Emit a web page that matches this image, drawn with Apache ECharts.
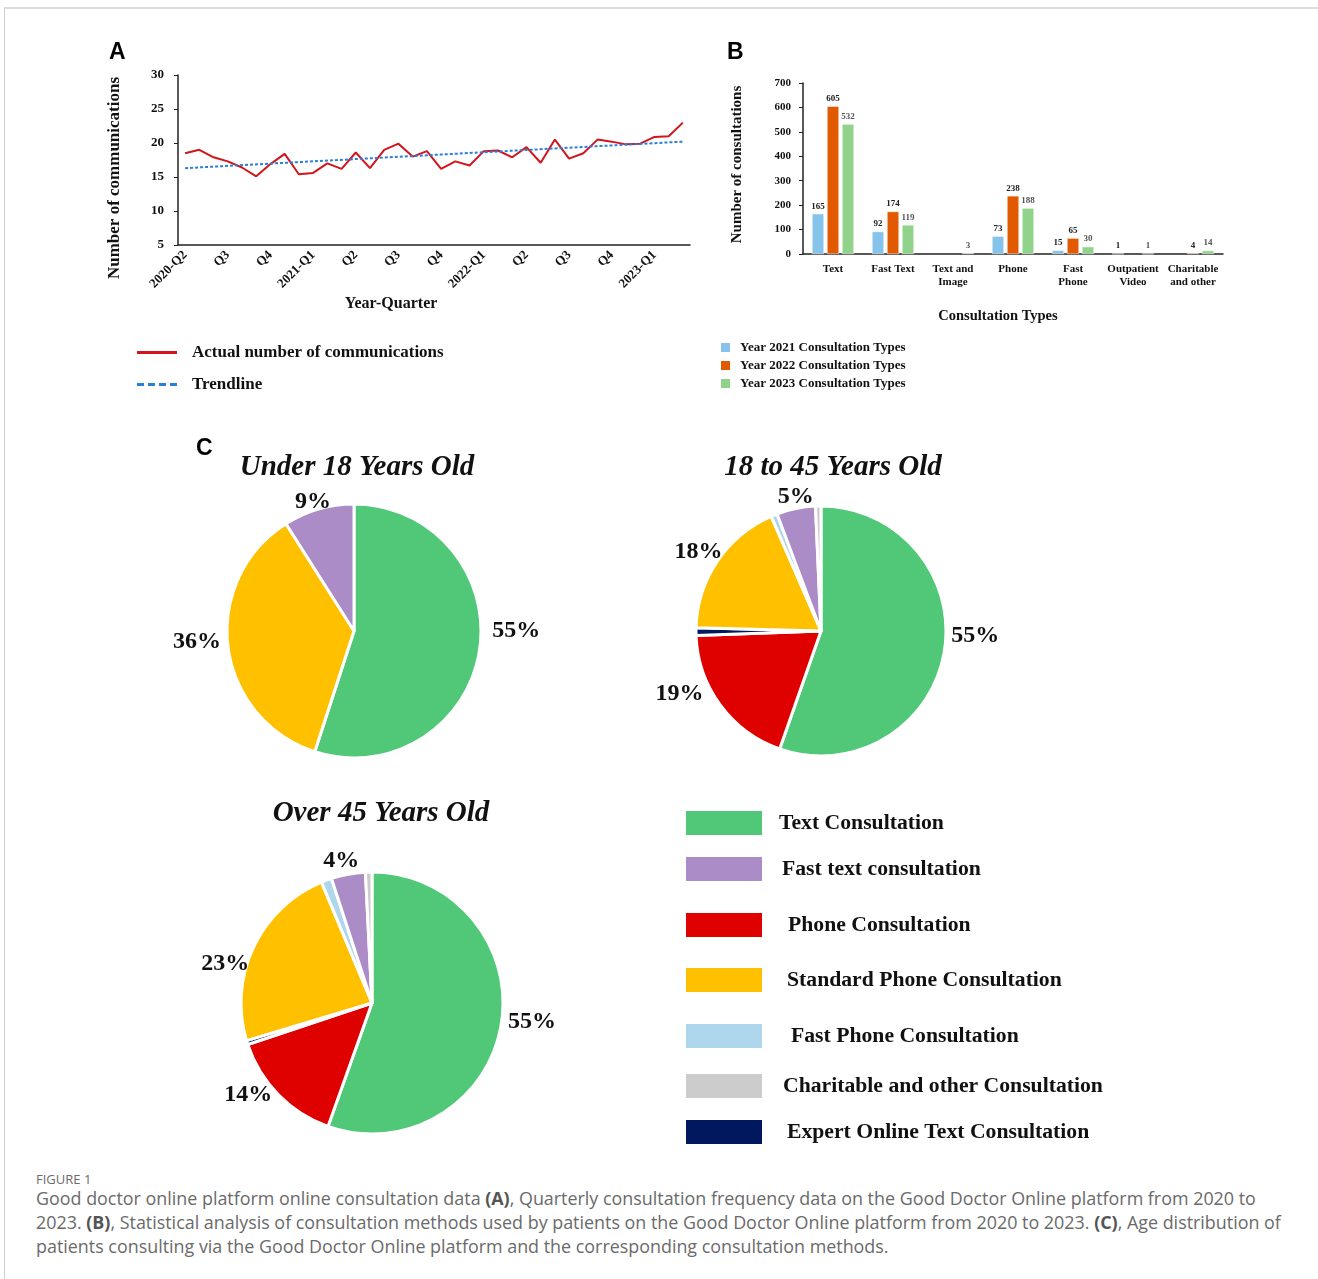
<!DOCTYPE html>
<html>
<head>
<meta charset="utf-8">
<script src="https://cdn.jsdelivr.net/npm/echarts@6/dist/echarts.min.js"></script>
<style>
  body { margin: 0; background: #fff; }
  #frame { position: absolute; left: 4px; top: 7px; width: 1314px; height: 1272px; border-top: 2px solid #dcdcdc; border-left: 1px solid #cfcfcf; pointer-events: none; }
  #chart { position: absolute; left: 0; top: 0; width: 1318px; height: 1165px; }
  #caption { position: absolute; left: 36px; top: 1172px; font-family: "Open Sans", sans-serif; color: #6a6a6a; white-space: nowrap; }
  #caption .fig { font-size: 13px; line-height: 14px; }
  #caption .txt { font-size: 17.9px; line-height: 24px; }
  #caption b { font-weight: 700; color: #555; }
</style>
</head>
<body>
<div id="chart"></div>
<div id="caption">
  <div class="fig">FIGURE 1</div>
  <div class="txt">Good doctor online platform online consultation data <b>(A)</b>, Quarterly consultation frequency data on the Good Doctor Online platform from 2020 to<br>2023. <b>(B)</b>, Statistical analysis of consultation methods used by patients on the Good Doctor Online platform from 2020 to 2023. <b>(C)</b>, Age distribution of<br>patients consulting via the Good Doctor Online platform and the corresponding consultation methods.</div>
</div>
<div id="frame"></div>
<script>
// Panel A - monthly counts, labelled by quarter
const monthLabels = ['2020-Q2','','','Q3','','','Q4','','','2021-Q1','','','Q2','','','Q3','','','Q4','','',
  '2022-Q1','','','Q2','','','Q3','','','Q4','','','2023-Q1','',''];
const actualCounts = [18.5, 19.0, 17.9, 17.3, 16.4, 15.1, 16.9, 18.4, 15.4, 15.6, 17.0, 16.2,
  18.6, 16.3, 19.0, 19.9, 18.0, 18.8, 16.2, 17.3, 16.7, 18.8, 18.9, 17.9,
  19.4, 17.1, 20.5, 17.7, 18.5, 20.5, 20.2, 19.8, 19.9, 20.9, 21.0, 23.0];
const trendStart = 16.3;
const trendEnd = 20.2;

// Panel B - consultation types per year
const consultTypes = ['Text', 'Fast Text', 'Text and\nImage', 'Phone', 'Fast\nPhone', 'Outpatient\nVideo', 'Charitable\nand other'];
const year2021 = [165, 92, null, 73, 15, 1, null];
const year2022 = [605, 174, null, 238, 65, null, 4];
const year2023 = [532, 119, 3, 188, 30, 1, 14];

// Panel C - age groups (percent)
const methodNames = ['Text Consultation', 'Phone Consultation', 'Expert Online Text Consultation',
  'Standard Phone Consultation', 'Fast Phone Consultation', 'Fast text consultation', 'Charitable and other Consultation'];
const under18 = [55, 0, 0, 36, 0, 9, 0];
const age18to45 = [55.2, 19, 1, 18, 0.8, 5, 0.7];
const over45 = [55.4, 14.4, 0.5, 23.3, 1.3, 4.2, 0.8];
const legendOrder = ['Text Consultation', 'Fast text consultation', 'Phone Consultation', 'Standard Phone Consultation',
  'Fast Phone Consultation', 'Charitable and other Consultation', 'Expert Online Text Consultation'];

const methodColors = {
  'Text Consultation': '#50c878',
  'Fast text consultation': '#ab8cc6',
  'Phone Consultation': '#df0000',
  'Standard Phone Consultation': '#ffc000',
  'Fast Phone Consultation': '#aed6ec',
  'Charitable and other Consultation': '#cccccc',
  'Expert Online Text Consultation': '#02185e'
};

// label nudges (px) so the percentages sit where the original put them
const nudgeUnder18 = { 0: [2, -21], 3: [4, -6], 5: [19, -1] };
const nudge18to45 = { 0: [-4, -17], 1: [-7, -15], 3: [15, -6], 5: [24, -6] };
const nudgeOver45 = { 0: [-4, -5], 1: [3, -4], 3: [6, 19], 5: [17, -7] };

const serif = '"Liberation Serif", "Times New Roman", serif';
const chart = echarts.init(document.getElementById('chart'));

function pieData(values, nudge) {
  const out = [];
  values.forEach((v, i) => {
    if (!v) return;
    out.push({
      name: methodNames[i],
      value: v,
      itemStyle: { color: methodColors[methodNames[i]] },
      label: { show: v >= 3, offset: nudge[i] || [0, 0] }
    });
  });
  return out;
}

function pieSeries(values, nudge, center, radius) {
  return {
    type: 'pie',
    center: center,
    radius: radius,
    startAngle: 90,
    clockwise: true,
    animation: false,
    emphasis: { disabled: true },
    itemStyle: { borderColor: '#fff', borderWidth: 3 },
    label: {
      position: 'outside',
      formatter: p => Math.round(p.value) + '%',
      fontFamily: serif, fontWeight: 'bold', fontSize: 24, color: '#111'
    },
    labelLine: { show: false, length: 6, length2: 0 },
    data: pieData(values, nudge)
  };
}

const legendTops = [811, 857, 913, 968, 1024, 1074, 1120];
const legendIndent = [12, 15, 21, 20, 24, 16, 20];
const pieLegends = legendOrder.map((name, i) => ({
  data: [name],
  left: 686,
  top: legendTops[i],
  padding: 0,
  icon: 'rect',
  itemWidth: 76,
  itemHeight: 24,
  selectedMode: false,
  itemStyle: { borderWidth: 0 },
  textStyle: { fontFamily: serif, fontWeight: 'bold', fontSize: 21.7, color: '#111', padding: [0, 0, 0, legendIndent[i]] }
}));

const axisText = { fontFamily: serif, fontWeight: 'bold', color: '#111' };
const blackLine = { lineStyle: { color: '#222', width: 1.5 } };
const letterStyle = { fontFamily: '"Liberation Sans", Arial', fontWeight: 'bold', fontSize: 23, color: '#000' };
const pieTitleStyle = { fontFamily: serif, fontWeight: 'bold', fontStyle: 'italic', fontSize: 29, color: '#111' };

const option = {
  backgroundColor: '#fff',
  animation: false,
  title: [
    { text: 'A', left: 104, top: 36, textStyle: letterStyle },
    { text: 'B', left: 722, top: 36, textStyle: letterStyle },
    { text: 'C', left: 191, top: 432, textStyle: letterStyle },
    { text: 'Under 18 Years Old', left: 352, top: 448, textAlign: 'center', textStyle: pieTitleStyle },
    { text: '18 to 45 Years Old', left: 828, top: 448, textAlign: 'center', textStyle: pieTitleStyle },
    { text: 'Over 45 Years Old', left: 376, top: 794, textAlign: 'center', textStyle: pieTitleStyle }
  ],
  legend: [
    {
      data: [
        { name: 'Actual number of communications', icon: 'rect' },
        { name: 'Trendline', icon: 'path://M0,0h7v3h-7z M11,0h7v3h-7z M22,0h7v3h-7z M33,0h7v3h-7z' }
      ],
      left: 137, top: 344, orient: 'vertical', padding: 0,
      itemWidth: 40, itemHeight: 3, itemGap: 15,
      selectedMode: false,
      itemStyle: { borderWidth: 0 },
      textStyle: { fontFamily: serif, fontWeight: 'bold', fontSize: 17, color: '#111', padding: [0, 0, 0, 10] }
    },
    {
      data: ['Year 2021 Consultation Types', 'Year 2022 Consultation Types', 'Year 2023 Consultation Types'],
      left: 719, top: 341, orient: 'vertical', icon: 'rect', padding: 0,
      itemWidth: 11, itemHeight: 11, itemGap: 5,
      selectedMode: false,
      textStyle: { fontFamily: serif, fontWeight: 'bold', fontSize: 13, color: '#111', padding: [0, 0, 0, 4] }
    }
  ].concat(pieLegends),
  grid: [
    { left: 178, top: 75, width: 512, height: 170 },
    { left: 803, top: 83, width: 420, height: 171 }
  ],
  xAxis: [
    {
      gridIndex: 0, type: 'category', data: monthLabels, boundaryGap: true,
      name: 'Year-Quarter', nameLocation: 'middle', nameGap: 51,
      nameTextStyle: Object.assign({ fontSize: 16, padding: [0, 86, 0, 0] }, axisText),
      axisLine: blackLine,
      axisTick: { interval: 0, length: 4, lineStyle: { color: '#222' } },
      axisLabel: Object.assign({ interval: 0, rotate: 45, fontSize: 13, margin: 8 }, axisText)
    },
    {
      gridIndex: 1, type: 'category', data: consultTypes,
      name: 'Consultation Types', nameLocation: 'middle', nameGap: 55,
      nameTextStyle: Object.assign({ fontSize: 14.5, padding: [0, 30, 0, 0] }, axisText),
      axisLine: blackLine,
      axisTick: { length: 4, lineStyle: { color: '#222' } },
      axisLabel: Object.assign({ interval: 0, fontSize: 11, lineHeight: 13, margin: 9 }, axisText)
    }
  ],
  yAxis: [
    {
      gridIndex: 0, type: 'value', min: 5, max: 30, interval: 5,
      name: 'Number of communications', nameLocation: 'middle', nameGap: 55,
      nameTextStyle: Object.assign({ fontSize: 17, padding: [0, 36, 0, 0] }, axisText),
      axisLine: Object.assign({ show: true }, blackLine),
      axisTick: { show: true, length: 4, lineStyle: { color: '#222' } },
      splitLine: { show: false },
      axisLabel: Object.assign({ fontSize: 13, margin: 14 }, axisText)
    },
    {
      gridIndex: 1, type: 'value', min: 0, max: 700, interval: 100,
      name: 'Number of consultations', nameLocation: 'middle', nameGap: 58,
      nameTextStyle: Object.assign({ fontSize: 15, padding: [0, 0, 0, 8] }, axisText),
      axisLine: Object.assign({ show: true }, blackLine),
      axisTick: { show: true, length: 4, lineStyle: { color: '#222' } },
      splitLine: { show: false },
      axisLabel: Object.assign({ fontSize: 11, margin: 12 }, axisText)
    }
  ],
  series: [
    {
      name: 'Actual number of communications', type: 'line',
      xAxisIndex: 0, yAxisIndex: 0, data: actualCounts,
      symbol: 'none', color: '#d2141b',
      lineStyle: { color: '#d2141b', width: 2 }
    },
    {
      name: 'Trendline', type: 'line',
      xAxisIndex: 0, yAxisIndex: 0,
      data: [[0, trendStart], [actualCounts.length - 1, trendEnd]],
      symbol: 'none', color: '#2a7fd8',
      lineStyle: { color: '#2a7fd8', width: 2, type: [3, 2] }
    },
    {
      name: 'Year 2021 Consultation Types', type: 'bar',
      xAxisIndex: 1, yAxisIndex: 1, data: year2021,
      barWidth: 12, barGap: '25%',
      itemStyle: { color: '#86c3ea', borderColor: '#fff', borderWidth: 0.5 },
      label: { show: true, position: 'top', distance: 3, fontFamily: serif, fontWeight: 'bold', fontSize: 9, color: '#222' }
    },
    {
      name: 'Year 2022 Consultation Types', type: 'bar',
      xAxisIndex: 1, yAxisIndex: 1, data: year2022,
      barWidth: 12, barGap: '25%',
      itemStyle: { color: '#e15a02', borderColor: '#fff', borderWidth: 0.5 },
      label: { show: true, position: 'top', distance: 3, fontFamily: serif, fontWeight: 'bold', fontSize: 9, color: '#222' }
    },
    {
      name: 'Year 2023 Consultation Types', type: 'bar',
      xAxisIndex: 1, yAxisIndex: 1, data: year2023,
      barWidth: 12, barGap: '25%',
      itemStyle: { color: '#92d38b', borderColor: '#fff', borderWidth: 0.5 },
      label: { show: true, position: 'top', distance: 3, fontFamily: serif, fontWeight: 'bold', fontSize: 9, color: '#555' }
    },
    pieSeries(under18, nudgeUnder18, [354, 631], 127),
    pieSeries(age18to45, nudge18to45, [821, 631], 125),
    pieSeries(over45, nudgeOver45, [372, 1003], 131)
  ]
};

chart.setOption(option);
</script>
</body>
</html>
